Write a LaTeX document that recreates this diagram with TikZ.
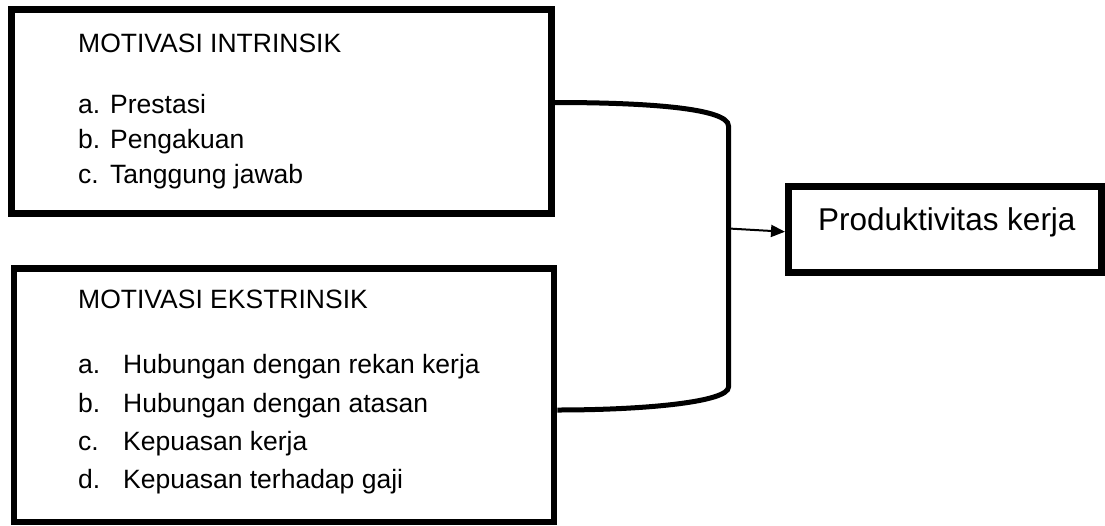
\documentclass[tikz,border=0pt]{standalone}
\usepackage{fontspec}
\setmainfont{Liberation Sans}
\usetikzlibrary{arrows.meta}
\begin{document}
\begin{tikzpicture}[x=1pt,y=-1pt,
  box/.style={draw,rectangle,inner sep=0pt},
  txt/.style={anchor=base west,inner sep=0pt,font=\fontsize{26.5}{30}\selectfont},
  link/.style={line width=5pt,line join=miter}]
\useasboundingbox (0,0) rectangle (1105,525);

% boxes
\node[box,line width=7pt,minimum width=540pt,minimum height=204pt] (intr) at (281.5,111.5) {};
\node[box,line width=6.5pt,minimum width=540pt,minimum height=253.5pt] (ekst) at (284,395.25) {};
\node[box,line width=7pt,minimum width=312.5pt,minimum height=85.5pt] (prod) at (944.75,229.25) {};

% intrinsic motivation
\node[txt] (t1) at (78,52) {MOTIVASI INTRINSIK};
\node[txt] (i1a) at (78,113) {a.};
\node[txt] (i1b) at (110,113) {Prestasi};
\node[txt] (i2a) at (78,148) {b.};
\node[txt] (i2b) at (110,148) {Pengakuan};
\node[txt] (i3a) at (78,183) {c.};
\node[txt] (i3b) at (110,183) {Tanggung jawab};

% extrinsic motivation
\node[txt] (t2) at (78,308) {MOTIVASI EKSTRINSIK};
\node[txt] (e1a) at (78,373) {a.};
\node[txt] (e1b) at (123,373) {Hubungan dengan rekan kerja};
\node[txt] (e2a) at (78,412) {b.};
\node[txt] (e2b) at (123,412) {Hubungan dengan atasan};
\node[txt] (e3a) at (78,450) {c.};
\node[txt] (e3b) at (123,450) {Kepuasan kerja};
\node[txt] (e4a) at (78,488) {d.};
\node[txt] (e4b) at (123,488) {Kepuasan terhadap gaji};

% outcome
\node[txt,font=\fontsize{31.5}{36}\selectfont] (pt) at (818,230) {Produktivitas kerja};

% bracket joining both boxes
\coordinate (top) at (728.5,126);
\coordinate (bot) at (728.5,387);
\coordinate (junc) at (728.5,228.5);
\draw[link] ([yshift=9pt]intr.east) .. controls (645,102.5) and (728.5,108) .. (top)
  -- (bot) .. controls (728.5,402) and (645,410) .. ([yshift=-14.75pt]ekst.east);

% arrow to outcome
\draw[line width=2pt,-{Triangle[length=14pt,width=12pt]}] (junc) -- ([yshift=-2.5pt]prod.west);
\end{tikzpicture}
\end{document}
